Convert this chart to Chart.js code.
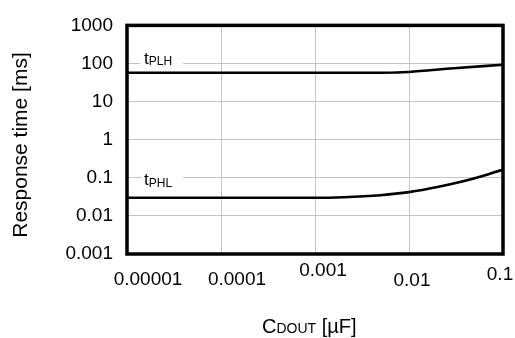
<!DOCTYPE html>
<html lang="en">

<head>
  <meta charset="UTF-8" />
  <title>Response time</title>
  <script src="https://cdn.jsdelivr.net/npm/chart.js"></script>
  <style>
    body { margin: 0; background: #fff; }
  </style>
</head>

<body>
  <canvas id="chart" width="515" height="338"></canvas>

  <script>
    // Data
    var plhCap = [0.00001, 0.0001, 0.001, 0.003, 0.0075, 0.01, 0.03, 0.1]
    var tPLH = [57, 57, 57, 57, 58, 60, 75, 93]
    var phlCap = [0.00001, 0.0001, 0.001, 0.002, 0.005, 0.01, 0.02, 0.05, 0.1]
    var tPHL = [0.03, 0.03, 0.03, 0.031, 0.035, 0.042, 0.057, 0.097, 0.165]

    var xTicks = [0.00001, 0.0001, 0.001, 0.01, 0.1]
    var xLabels = ['0.00001', '0.0001', '0.001', '0.01', '0.1']
    var yTicks = [0.001, 0.01, 0.1, 1, 10, 100, 1000]
    var yLabels = ['0.001', '0.01', '0.1', '1', '10', '100', '1000']

    // small nudges of the x tick labels, as in the picture
    var xLabelDx = [21, 16, 8, 3, -3]
    var xLabelDy = [26, 26, 17, 27, 21]

    var FONT = '"Liberation Sans", Arial, sans-serif'

    function pts(xs, ys) {
      return xs.map((x, i) => ({ x: x, y: ys[i] }))
    }

    // subscript text helper: main part then smaller subscript
    function drawSub(ctx, x, y, main, sub, size, subSize, drop) {
      ctx.font = size + 'px ' + FONT
      ctx.fillText(main, x, y)
      var w = ctx.measureText(main).width
      ctx.font = subSize + 'px ' + FONT
      ctx.fillText(sub, x + w, y + drop)
      return w + ctx.measureText(sub).width
    }

    const decorations = {
      id: 'decorations',
      beforeDatasetsDraw(chart) {
        const ctx = chart.ctx
        const area = chart.chartArea
        const y = chart.scales.y
        ctx.save()
        ctx.fillStyle = '#fff'
        ctx.fillRect(area.left + 13, y.getPixelForValue(100) - 12, 43, 16)
        ctx.fillRect(area.left + 15, y.getPixelForValue(0.1) - 12, 41, 16)
        ctx.fillStyle = '#000'
        ctx.textBaseline = 'alphabetic'
        ctx.textAlign = 'left'
        drawSub(ctx, area.left + 17, y.getPixelForValue(100), 't', 'PLH', 17, 12, 1)
        drawSub(ctx, area.left + 17, y.getPixelForValue(0.1) + 7, 't', 'PHL', 17, 12, 2)
        ctx.restore()
      },
      afterDraw(chart) {
        const ctx = chart.ctx
        const area = chart.chartArea
        const x = chart.scales.x
        ctx.save()
        // frame round the plot
        ctx.strokeStyle = '#000'
        ctx.lineWidth = 3.5
        ctx.strokeRect(area.left, area.top, area.right - area.left, area.bottom - area.top)

        // x tick labels
        ctx.fillStyle = '#000'
        ctx.font = '19px ' + FONT
        ctx.textAlign = 'center'
        ctx.textBaseline = 'middle'
        xTicks.forEach((v, i) => {
          ctx.fillText(xLabels[i], x.getPixelForValue(v) + xLabelDx[i], area.bottom + xLabelDy[i])
        })

        // x title  C_DOUT [µF]
        ctx.textAlign = 'left'
        ctx.textBaseline = 'alphabetic'
        var tx = 262
        ctx.font = '20px ' + FONT
        ctx.fillText('C', tx, 333)
        tx += ctx.measureText('C').width
        ctx.font = '14px ' + FONT
        ctx.fillText('DOUT', tx, 333)
        tx += ctx.measureText('DOUT').width
        ctx.font = '20px ' + FONT
        ctx.fillText(' [\u00b5F]', tx, 333)

        // y title
        ctx.translate(27, 145)
        ctx.rotate(-Math.PI / 2)
        ctx.textAlign = 'center'
        ctx.font = '21px ' + FONT
        ctx.fillText('Response time [ms]', 0, 0)
        ctx.restore()
      }
    }

    const gridColor = '#c4c4c4'

    new Chart(document.getElementById('chart'), {
      type: 'line',
      data: {
        datasets: [{
          label: 'tPLH',
          data: pts(plhCap, tPLH),
          borderColor: '#000',
          borderWidth: 2.6,
          pointRadius: 0,
          cubicInterpolationMode: 'monotone'
        }, {
          label: 'tPHL',
          data: pts(phlCap, tPHL),
          borderColor: '#000',
          borderWidth: 2.6,
          pointRadius: 0,
          cubicInterpolationMode: 'monotone'
        }]
      },
      plugins: [decorations],
      options: {
        responsive: false,
        animation: false,
        devicePixelRatio: 1,
        layout: { padding: { top: 24, right: 12, left: 0, bottom: 0 } },
        plugins: {
          legend: { display: false },
          tooltip: { enabled: false }
        },
        scales: {
          x: {
            type: 'logarithmic',
            min: 0.00001,
            max: 0.1,
            afterBuildTicks: s => { s.ticks = xTicks.map(v => ({ value: v })) },
            afterFit: s => { s.height = 84 },
            ticks: { display: false },
            grid: { color: gridColor, lineWidth: 1, drawTicks: false },
            border: { display: false }
          },
          y: {
            type: 'logarithmic',
            min: 0.001,
            max: 1000,
            afterBuildTicks: s => { s.ticks = yTicks.map(v => ({ value: v })) },
            afterFit: s => { s.width = 127 },
            ticks: {
              color: '#000',
              padding: 14,
              font: { size: 19, family: FONT },
              callback: (value, index) => yLabels[index]
            },
            grid: { color: gridColor, lineWidth: 1, drawTicks: false },
            border: { display: false }
          }
        }
      }
    })
  </script>
</body>

</html>
